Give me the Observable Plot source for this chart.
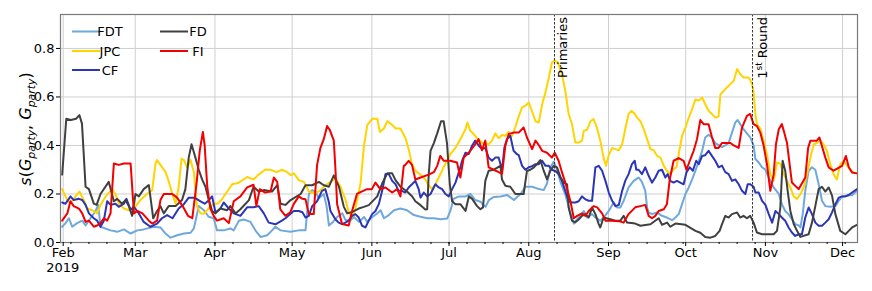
<!DOCTYPE html>
<html><head><meta charset="utf-8">
<script src="https://cdn.jsdelivr.net/npm/d3@7"></script>
<script src="https://cdn.jsdelivr.net/npm/@observablehq/plot@0.6"></script>
<style>
body{margin:0;background:#fff} svg{display:block}
g[aria-label="y-axis tick label"] text, g[aria-label="x-axis tick label"] text {font-size:13px;}
</style>
</head><body><div id="chart"></div>
<script>
// day offsets are counted from 1 Feb 2019
const startDate = Date.UTC(2019, 1, 1);
const seriesNames = ["FDT", "JPC", "CF", "FD", "FI"];
const seriesColors = ["#6fa8dc", "#ffd400", "#2b35b5", "#404040", "#f20000"];

const FDT = [[-0.4,0.065],[0.9,0.08],[2.2,0.1],[3.5,0.065],[5.4,0.08],[7.4,0.09],[8.7,0.07],[10.6,0.1],[12.6,0.13],[13.6,0.155],[14.5,0.065],[18.4,0.05],[21,0.044],[23.6,0.054],[26.2,0.037],[28.8,0.05],[31.3,0.054],[35.2,0.065],[37.8,0.062],[39.8,0.037],[41.7,0.02],[44.3,0.03],[46.9,0.037],[49.5,0.04],[50.8,0.058],[52.7,0.15],[54.7,0.133],[56.6,0.106],[58.5,0.1],[59.8,0.05],[62.4,0.05],[65,0.058],[66.3,0.05],[68.3,0.09],[70.2,0.095],[72.8,0.085],[74.7,0.05],[76.7,0.023],[79.3,0.03],[81.2,0.05],[82.5,0.065],[84.5,0.05],[88.3,0.044],[91.6,0.05],[94.2,0.05],[95.5,0.2],[96.8,0.216],[98,0.21],[99.4,0.182],[101.3,0.2],[102.4,0.15],[103.3,0.07],[104.9,0.085],[106.5,0.105],[108.5,0.12],[109.8,0.092],[111.7,0.092],[113,0.105],[115,0.085],[117,0.105],[118.2,0.085],[120.2,0.105],[122.1,0.12],[123.4,0.133],[124.7,0.1],[126.6,0.113],[128.6,0.133],[131.1,0.14],[133.7,0.133],[136.3,0.113],[138.9,0.106],[141.5,0.1],[144.1,0.1],[146.7,0.096],[149.3,0.099],[150.5,0.13],[151.8,0.18],[153.8,0.19],[156.4,0.19],[158.3,0.2],[160.2,0.175],[162.2,0.168],[164.2,0.147],[165.5,0.175],[167.4,0.188],[170,0.19],[172.6,0.196],[175.2,0.175],[176.5,0.188],[177.8,0.2],[179.7,0.23],[182.3,0.23],[184.2,0.223],[186.8,0.216],[188.1,0.243],[189.4,0.31],[190.7,0.333],[192,0.299],[193.3,0.25],[195.3,0.195],[197.2,0.12],[198.5,0.078],[199.8,0.096],[201.1,0.11],[202.4,0.13],[203.7,0.103],[205.6,0.117],[206.9,0.103],[208.8,0.09],[210.1,0.103],[212.1,0.13],[214,0.165],[215.3,0.144],[216.6,0.144],[217.9,0.172],[219.8,0.227],[221.8,0.254],[223.7,0.268],[225,0.25],[226.3,0.213],[227,0.144],[227.6,0.124],[228.9,0.117],[230.8,0.124],[232.8,0.11],[234.7,0.103],[236.7,0.092],[238,0.103],[239.3,0.117],[240.6,0.158],[241.9,0.2],[243.2,0.227],[244.5,0.26],[245.8,0.296],[247.1,0.337],[248.4,0.378],[249.6,0.433],[250.9,0.444],[252.2,0.433],[253.5,0.41],[256.1,0.393],[257.4,0.4],[258.7,0.41],[260,0.453],[261.3,0.495],[262.2,0.505],[263.2,0.488],[264.5,0.467],[265.8,0.45],[267.1,0.433],[268.4,0.4],[269.1,0.344],[270.4,0.33],[271.7,0.31],[273,0.3],[274.3,0.268],[276.2,0.227],[278.2,0.2],[279.4,0.158],[280.7,0.13],[282,0.117],[283.3,0.096],[284.6,0.076],[286,0.07],[286.6,0.062],[287.5,0.117],[288.5,0.213],[289.8,0.296],[291.1,0.31],[292.4,0.3],[293.7,0.24],[295,0.172],[296.3,0.15],[298.2,0.147],[300.2,0.15],[301.5,0.172],[302.8,0.19],[305.4,0.195],[306.7,0.195],[308.6,0.213]];

const JPC = [[-0.4,0.22],[1.6,0.175],[2.8,0.16],[4.8,0.19],[6.3,0.21],[8,0.175],[9.3,0.14],[11.3,0.133],[13.2,0.12],[14.5,0.155],[16.5,0.19],[19,0.22],[20.3,0.2],[21.6,0.16],[23.6,0.14],[25.5,0.133],[27.5,0.14],[30,0.175],[32.6,0.2],[34.6,0.216],[35.9,0.326],[36.5,0.34],[37.8,0.32],[39.8,0.29],[41.1,0.25],[42.4,0.2],[43.7,0.16],[44.9,0.23],[46,0.346],[46.9,0.34],[48.2,0.31],[49.5,0.34],[50.8,0.29],[52,0.15],[53.4,0.12],[55,0.12],[56.5,0.14],[58.5,0.16],[60,0.16],[61.5,0.175],[63.1,0.2],[65.7,0.24],[68,0.245],[71.5,0.27],[74,0.26],[76,0.28],[78.5,0.3],[80.6,0.3],[83,0.29],[85,0.3],[87.1,0.29],[88.4,0.278],[89.7,0.285],[91.6,0.257],[93.6,0.25],[95.5,0.21],[97.5,0.203],[99.4,0.21],[102,0.236],[103.9,0.25],[105.9,0.264],[107.8,0.23],[109.8,0.175],[111.1,0.12],[112.4,0.106],[113.6,0.14],[115.6,0.243],[116.9,0.395],[118.2,0.484],[120.1,0.51],[122.1,0.51],[123.1,0.456],[124.7,0.47],[126,0.5],[127.9,0.485],[129.2,0.47],[131.1,0.47],[133.1,0.43],[134.3,0.385],[135.6,0.323],[136.9,0.296],[138.9,0.28],[140.8,0.26],[142.1,0.236],[143.4,0.22],[144.7,0.24],[146,0.268],[147.9,0.31],[150.5,0.364],[152.5,0.39],[154.4,0.426],[156.4,0.467],[157.1,0.495],[158.3,0.46],[159.6,0.447],[160.9,0.43],[162.8,0.412],[164.1,0.408],[165.4,0.405],[166.7,0.42],[168,0.45],[169.3,0.43],[170.6,0.443],[171.9,0.44],[173.2,0.456],[173.8,0.433],[174.5,0.44],[175.8,0.477],[177.1,0.52],[178.4,0.557],[179.7,0.564],[181,0.577],[182.3,0.54],[183.6,0.5],[184.9,0.495],[186.2,0.57],[187.5,0.62],[188.8,0.68],[190,0.742],[191.1,0.75],[192.3,0.742],[193.9,0.694],[195.2,0.625],[196.5,0.53],[197.8,0.488],[199.1,0.412],[200.4,0.412],[201.7,0.42],[202.4,0.46],[203.7,0.465],[205,0.5],[206.2,0.509],[207.5,0.474],[208.8,0.42],[210.1,0.35],[211,0.316],[212.1,0.36],[213.4,0.39],[214.7,0.385],[216,0.38],[217.3,0.405],[218.5,0.467],[219.8,0.53],[220.9,0.543],[222.2,0.53],[223.1,0.515],[224.4,0.5],[225.7,0.467],[227,0.426],[228.3,0.385],[229.6,0.38],[230.9,0.357],[232.2,0.35],[233.5,0.316],[234.7,0.296],[236,0.282],[237.1,0.3],[238.4,0.31],[239.3,0.364],[240.6,0.44],[241.9,0.474],[243.2,0.515],[244.5,0.55],[245.8,0.59],[247.1,0.585],[248.4,0.598],[249.6,0.57],[250.9,0.543],[252.2,0.53],[253.5,0.515],[254.8,0.52],[255.5,0.61],[256.8,0.625],[258.1,0.64],[259.4,0.653],[260.7,0.667],[262,0.715],[263.2,0.694],[264.5,0.68],[266.5,0.68],[267.1,0.67],[267.8,0.653],[268.4,0.62],[269.1,0.53],[269.7,0.488],[271,0.47],[272.3,0.42],[273.6,0.364],[274.9,0.282],[276.2,0.254],[277.5,0.33],[278.8,0.325],[280.1,0.282],[281.4,0.254],[282.7,0.227],[284,0.19],[285.3,0.18],[286.6,0.2],[287.9,0.227],[289.2,0.282],[290.5,0.35],[291.8,0.405],[293,0.41],[294.3,0.42],[295.6,0.405],[296.9,0.378],[298.2,0.323],[299.5,0.282],[300.8,0.26],[302.1,0.323],[303.4,0.336],[304.3,0.323],[305.4,0.31],[306.7,0.29],[308.6,0.285]];

const CF = [[-0.4,0.165],[0.9,0.16],[2.2,0.18],[2.8,0.19],[4.1,0.175],[6.1,0.18],[7.4,0.175],[8.7,0.155],[10,0.12],[11.9,0.1],[13.2,0.09],[14.5,0.065],[15.8,0.09],[17.1,0.17],[18.4,0.155],[20.3,0.16],[21.6,0.147],[23.6,0.16],[24.6,0.18],[26.2,0.135],[27.5,0.147],[29.4,0.12],[31.3,0.085],[33.9,0.065],[36.5,0.078],[38.4,0.1],[40.4,0.113],[42.5,0.1],[44.9,0.14],[46.9,0.158],[48.8,0.185],[51,0.185],[53.4,0.17],[55,0.16],[56.2,0.17],[57.9,0.19],[59.2,0.124],[61.1,0.14],[62.4,0.165],[64.4,0.14],[66.3,0.12],[68.9,0.11],[71.5,0.145],[74,0.145],[76,0.15],[78,0.12],[79.9,0.082],[82.5,0.075],[85,0.09],[86.4,0.1],[89.6,0.13],[91.6,0.13],[93,0.125],[94.2,0.103],[95.5,0.11],[96.8,0.15],[98.7,0.17],[100.6,0.213],[101.9,0.22],[103.2,0.17],[103.9,0.13],[105.8,0.096],[107.1,0.082],[108.4,0.076],[109.7,0.082],[111,0.09],[112.3,0.11],[113.6,0.117],[114.9,0.103],[116.2,0.069],[117.5,0.062],[118.8,0.09],[120.1,0.117],[121.4,0.13],[122.7,0.158],[124,0.213],[125.3,0.282],[126.6,0.282],[127.9,0.254],[129.2,0.24],[130.4,0.213],[131.7,0.213],[133,0.206],[134.3,0.227],[135.6,0.24],[136.9,0.254],[138.2,0.22],[138.9,0.185],[140.2,0.206],[141.5,0.19],[142.8,0.2],[144.7,0.24],[146,0.227],[147.3,0.22],[148.6,0.2],[149.9,0.19],[151.2,0.22],[152.5,0.247],[153.8,0.289],[155.1,0.337],[156.4,0.37],[157.7,0.365],[159,0.4],[160.2,0.42],[161.5,0.4],[162.8,0.385],[164.1,0.39],[165.4,0.35],[166.7,0.337],[168,0.35],[169.3,0.35],[170,0.323],[170.6,0.296],[171.5,0.39],[172.5,0.426],[173.8,0.44],[175.1,0.378],[176.4,0.364],[177.1,0.36],[178.4,0.316],[179.7,0.3],[181,0.31],[182.3,0.315],[183.6,0.323],[184.9,0.323],[186.2,0.337],[187.5,0.316],[188.8,0.316],[190,0.3],[191.3,0.295],[192.6,0.282],[193.9,0.254],[195.2,0.213],[196.5,0.17],[197.8,0.165],[199.1,0.165],[200.4,0.17],[201.7,0.19],[203,0.178],[204.3,0.172],[205.6,0.172],[206.9,0.31],[208.2,0.316],[209.5,0.296],[210.8,0.254],[212.1,0.206],[213.4,0.172],[214.7,0.15],[216,0.155],[217.3,0.213],[218.5,0.254],[219.8,0.282],[221.1,0.323],[222.2,0.337],[222.8,0.3],[223.7,0.3],[225,0.282],[226.3,0.31],[227.6,0.275],[228.9,0.247],[230.2,0.268],[231.5,0.296],[232.8,0.3],[234.1,0.268],[235,0.282],[236,0.254],[237.3,0.247],[238.6,0.254],[239.9,0.247],[241.2,0.24],[242.3,0.289],[243.6,0.31],[244.8,0.296],[246.1,0.337],[247.1,0.323],[248.4,0.357],[249.6,0.36],[250.9,0.378],[252.2,0.357],[253.5,0.337],[254.8,0.31],[256.1,0.317],[257.4,0.29],[258.7,0.282],[260,0.254],[261.3,0.26],[262.6,0.24],[263.9,0.213],[265.2,0.2],[266.1,0.24],[267.1,0.24],[268.4,0.23],[269.1,0.206],[270.4,0.206],[271.7,0.172],[273,0.155],[274.3,0.117],[275.6,0.082],[276.9,0.13],[278.2,0.117],[279.4,0.103],[280.7,0.09],[282,0.062],[283.3,0.041],[284.6,0.027],[286,0.034],[287.2,0.034],[288.5,0.103],[289.8,0.144],[291.1,0.117],[292.4,0.082],[293.7,0.069],[295,0.069],[296.3,0.082],[297.6,0.096],[298.9,0.124],[300.2,0.158],[301.5,0.185],[302.8,0.19],[304.1,0.19],[305.4,0.196],[306.7,0.206],[308.6,0.22]];

const FD = [[-0.4,0.28],[1.2,0.51],[3,0.505],[5,0.51],[6.3,0.525],[7.3,0.49],[8.7,0.23],[10,0.22],[11.9,0.16],[13,0.155],[14.5,0.2],[17.7,0.25],[19.7,0.17],[21,0.18],[22.9,0.16],[24.2,0.175],[25.5,0.15],[26.8,0.11],[28.1,0.2],[29.4,0.19],[31.3,0.22],[33.3,0.237],[35,0.1],[36.5,0.13],[37.8,0.15],[39.1,0.12],[41,0.15],[43.7,0.15],[46.2,0.175],[47.5,0.22],[48.8,0.35],[49.9,0.405],[51.4,0.35],[52.7,0.3],[54,0.26],[55.3,0.23],[56.6,0.175],[57.9,0.13],[59.2,0.12],[61.1,0.14],[63.7,0.133],[65,0.15],[67,0.12],[68.9,0.137],[72.2,0.175],[74,0.23],[76,0.21],[78,0.216],[81.2,0.21],[83.2,0.237],[84.5,0.16],[86.4,0.155],[88.4,0.175],[92.3,0.2],[94.2,0.236],[96.8,0.236],[99.4,0.25],[101.3,0.236],[103.3,0.23],[105.2,0.277],[107.2,0.23],[109.1,0.147],[110.4,0.12],[112.4,0.126],[114.9,0.14],[116.9,0.147],[118.8,0.154],[122.1,0.19],[124,0.243],[126,0.285],[127.9,0.285],[129.2,0.257],[131.1,0.23],[133.7,0.21],[135.7,0.19],[136.9,0.17],[138.9,0.154],[140.8,0.136],[141.5,0.137],[142.1,0.28],[142.8,0.378],[144.1,0.41],[145.4,0.45],[146.9,0.5],[147.9,0.5],[149.2,0.41],[150.3,0.24],[151.2,0.17],[152.5,0.158],[154.4,0.158],[156.4,0.13],[157.7,0.19],[159,0.18],[160.9,0.15],[162.2,0.137],[163.2,0.145],[164.1,0.254],[165.4,0.296],[167.4,0.3],[170,0.316],[170.6,0.26],[171.9,0.234],[173.8,0.23],[175.8,0.2],[177.1,0.2],[179,0.2],[180.3,0.295],[181.6,0.3],[183,0.31],[184.2,0.323],[185.5,0.34],[186.8,0.296],[188.1,0.26],[189.4,0.296],[190.7,0.316],[192,0.31],[193.3,0.27],[194.6,0.247],[195.9,0.24],[196.5,0.144],[197.8,0.09],[199.1,0.083],[200.4,0.095],[201.7,0.11],[203,0.117],[204.3,0.103],[205.6,0.144],[206.9,0.117],[208.2,0.076],[208.8,0.062],[210.1,0.103],[212.7,0.096],[214.7,0.09],[216.6,0.09],[217.9,0.11],[219.2,0.082],[222.4,0.078],[224.4,0.069],[228.3,0.075],[231.5,0.1],[232.8,0.073],[234.8,0.082],[236,0.065],[238,0.078],[241.9,0.073],[245.8,0.048],[247.7,0.04],[249.6,0.023],[251.6,0.02],[253.5,0.027],[255.2,0.048],[256.1,0.075],[257.4,0.11],[258.7,0.103],[260,0.117],[262,0.124],[263.2,0.103],[264.5,0.11],[265.8,0.1],[267.1,0.11],[268.4,0.082],[269.7,0.041],[271.7,0.034],[276.2,0.034],[277.5,0.048],[278.8,0.144],[279.7,0.337],[280.7,0.296],[281.8,0.2],[282.7,0.13],[284,0.076],[285.3,0.048],[286.6,0.023],[289.8,0.034],[291.1,0.082],[292.4,0.15],[293.7,0.22],[295,0.23],[296.3,0.21],[297.6,0.227],[298.9,0.193],[300.2,0.117],[302.1,0.048],[304.1,0.034],[305.4,0.048],[306.7,0.062],[308.6,0.073]];

const FI = [[-0.4,0.09],[1.6,0.12],[2.8,0.17],[4.1,0.15],[6.1,0.14],[7.4,0.12],[8.7,0.085],[10,0.09],[11.9,0.065],[13.2,0.07],[14.5,0.08],[15.8,0.1],[17.1,0.09],[18.4,0.12],[19.7,0.326],[21.6,0.32],[23.6,0.326],[26.2,0.326],[27.5,0.12],[28.8,0.13],[30.8,0.12],[33.3,0.09],[34.6,0.078],[36.5,0.09],[37.8,0.175],[39.1,0.2],[42.4,0.2],[44.3,0.185],[46.6,0.147],[48.5,0.11],[50.2,0.1],[51.8,0.24],[53.1,0.38],[54.3,0.456],[55,0.4],[56,0.23],[57.2,0.14],[58.5,0.11],[59.8,0.09],[62.4,0.1],[64.4,0.08],[66.3,0.17],[68.9,0.19],[71.5,0.227],[74,0.238],[75.1,0.15],[76.4,0.22],[78.5,0.206],[80.6,0.21],[81.9,0.268],[83.2,0.25],[84.4,0.137],[86.4,0.11],[88.3,0.125],[89.6,0.158],[91.6,0.19],[93,0.18],[94.2,0.178],[95.5,0.117],[97.4,0.117],[98.7,0.32],[100,0.39],[101.3,0.426],[102.6,0.48],[103.6,0.465],[105.2,0.42],[105.8,0.31],[106.5,0.158],[108.4,0.076],[111,0.07],[112.3,0.13],[114.2,0.2],[116,0.21],[118.1,0.22],[120,0.22],[121.4,0.247],[123.3,0.22],[125.3,0.227],[127.9,0.206],[129.8,0.22],[131.1,0.19],[132.4,0.316],[133,0.32],[134.3,0.337],[135.6,0.32],[136.9,0.26],[139.5,0.27],[142.1,0.28],[144.1,0.29],[145.4,0.316],[146.6,0.357],[147.9,0.337],[150.5,0.337],[153.1,0.33],[154.4,0.268],[155.7,0.35],[157.7,0.37],[160.2,0.405],[161.5,0.426],[162.8,0.38],[164.1,0.42],[165.4,0.31],[167.4,0.3],[169.3,0.29],[170.6,0.283],[171.9,0.4],[173.2,0.447],[175.1,0.453],[177.1,0.453],[179,0.474],[180.3,0.433],[182.3,0.385],[183.6,0.42],[185,0.4],[186.2,0.378],[188.1,0.37],[190,0.35],[191.1,0.37],[192.6,0.337],[193.9,0.29],[195.2,0.247],[197.2,0.17],[198.5,0.1],[199.8,0.11],[201.7,0.12],[203,0.11],[204.3,0.13],[206.2,0.15],[207.6,0.145],[209.5,0.12],[210.8,0.09],[213.4,0.09],[216,0.088],[217.9,0.082],[219.8,0.117],[222.4,0.145],[224.4,0.15],[226.3,0.155],[227.6,0.11],[228.9,0.1],[230.2,0.11],[231.5,0.13],[233.5,0.137],[234.7,0.158],[235.8,0.26],[237.3,0.337],[239.3,0.348],[241.2,0.337],[242.3,0.3],[243.6,0.337],[245.1,0.378],[246.4,0.426],[247.7,0.505],[249,0.488],[250.9,0.488],[252.2,0.435],[253.5,0.39],[254.8,0.39],[256.1,0.41],[259.4,0.41],[260.7,0.4],[262.6,0.39],[263.9,0.474],[265.8,0.522],[267.1,0.53],[268.4,0.488],[269.7,0.48],[271,0.453],[272.3,0.4],[273.6,0.323],[274.9,0.213],[276.2,0.28],[277.1,0.405],[278.2,0.467],[279.4,0.488],[280.4,0.45],[281.4,0.41],[283.3,0.247],[285.9,0.22],[288.5,0.268],[289.6,0.39],[290.5,0.42],[293,0.42],[294,0.433],[296.3,0.35],[297.6,0.31],[299.5,0.296],[302.8,0.316],[304.3,0.357],[305.4,0.31],[306.7,0.289],[308.6,0.285]];

const monthTicks = ["2019-02-01","2019-03-01","2019-04-01","2019-05-01","2019-06-01","2019-07-01","2019-08-01","2019-09-01","2019-10-01","2019-11-01","2019-12-01"];
const monthLabels = ["Feb","Mar","Apr","May","Jun","Jul","Aug","Sep","Oct","Nov","Dec"];
const yearLabel = "2019";
const yTicks = [0, 0.2, 0.4, 0.6, 0.8];
const eventDates = ["2019-08-11", "2019-10-27"];
const eventLabels = ["Primaries", "1st Round"];

const DAY = 864e5;
const toDate = d => new Date(startDate + d * DAY);
const seriesData = [FDT, JPC, CF, FD, FI];
const rows = seriesData.map((pts, i) => pts.map(([d, v]) => ({series: seriesNames[i], date: toDate(d), value: v})));
const months = monthTicks.map(s => new Date(s + "T00:00:00Z"));
const events = eventDates.map(s => new Date(s + "T00:00:00Z"));
const xDomain = [toDate(-1.05), toDate(308.8)];
const mondays = d3.utcMonday.range(xDomain[0], xDomain[1]);
const labelOf = d => { const i = months.findIndex(m => +m === +d); return i >= 0 ? monthLabels[i] : ""; };
const FONT = "'DejaVu Sans', sans-serif";

const chart = Plot.plot({
  width: 872, height: 291,
  marginLeft: 60, marginRight: 15, marginTop: 14, marginBottom: 49,
  style: {fontFamily: FONT, fontSize: "13px", color: "#000", background: "#fff", overflow: "visible"},
  x: {type: "utc", domain: xDomain},
  y: {domain: [0, 0.94]},
  marks: [
    Plot.gridX(months, {stroke: "#cfcfcf", strokeOpacity: 1, strokeWidth: 1}),
    Plot.gridY(yTicks, {stroke: "#cfcfcf", strokeOpacity: 1, strokeWidth: 1}),
    ...rows.map((r, i) => Plot.line(r, {x: "date", y: "value", stroke: seriesColors[i], strokeWidth: 2})),
    Plot.ruleX(events, {stroke: "#333", strokeWidth: 1, strokeDasharray: "2.5,1.5"}),
    Plot.frame({stroke: "#7a7a7a", strokeWidth: 1.2}),
    Plot.axisY(yTicks, {tickSize: 4, tickPadding: 2, tickFormat: d3.format(".1f"), label: null, fontSize: 13}),
    Plot.axisX(mondays, {tickSize: 2, tickFormat: () => "", label: null}),
    Plot.axisX(months, {tickSize: 4, tickPadding: 1.5, tickFormat: labelOf, label: null, fontSize: 13})
  ]
});
document.getElementById("chart").appendChild(chart);

const svg = d3.select(chart);
const xs = chart.scale("x");

// year under first month label
svg.append("text")
  .attr("x", xs.apply(months[0])).attr("y", 272)
  .attr("text-anchor", "middle").attr("font-size", 13).attr("font-family", FONT).attr("fill", "#000")
  .text(yearLabel);

// event labels
events.forEach((d, i) => {
  const x = xs.apply(d) + (i === 0 ? 13.5 : 15);
  const t = svg.append("text")
    .attr("transform", `translate(${x},17) rotate(-90)`)
    .attr("text-anchor", "end")
    .attr("font-size", 13)
    .attr("font-family", FONT)
    .attr("fill", "#000");
  if (eventLabels[i] === "1st Round") {
    t.append("tspan").text("1");
    t.append("tspan").attr("font-size", 9).attr("dy", -5).text("st");
    t.append("tspan").attr("dy", 5).text(" Round");
  } else {
    t.text(eventLabels[i]);
  }
});

// y label: s(G_party, G_party), fitted to the reference length
function buildYLabel(fs) {
  svg.select(".ylab").remove();
  const sub = fs * 0.68, sh = fs * 0.25;
  const yl = svg.append("text").attr("class", "ylab")
    .attr("transform", "translate(31,129) rotate(-90)")
    .attr("text-anchor", "middle")
    .attr("font-family", FONT)
    .attr("fill", "#000");
  yl.append("tspan").attr("font-size", fs).attr("font-style", "italic").text("s");
  yl.append("tspan").attr("font-size", fs).text("(");
  yl.append("tspan").attr("font-size", fs).attr("font-style", "italic").text("G");
  yl.append("tspan").attr("font-size", sub).attr("font-style", "italic").attr("dy", sh).text("party");
  yl.append("tspan").attr("font-size", fs).attr("dy", -sh).text(", ");
  yl.append("tspan").attr("font-size", fs).attr("font-style", "italic").text("G");
  yl.append("tspan").attr("font-size", sub).attr("font-style", "italic").attr("dy", sh).text("party");
  yl.append("tspan").attr("font-size", fs).attr("dy", -sh).text(")");
  return yl.node();
}
let node = buildYLabel(16);
try {
  const len = node.getComputedTextLength();
  if (len > 0 && Math.abs(len - 114) > 3) node = buildYLabel(16 * 114 / len);
} catch (e) {}

// legend
const legendPos = [[72, 31.5], [72, 51], [72, 70], [160, 31.5], [160, 51]];
const lg = svg.append("g").attr("font-family", FONT).attr("font-size", 13);
seriesNames.forEach((name, i) => {
  const [lx, ly] = legendPos[i];
  lg.append("line").attr("x1", lx).attr("x2", lx + 28).attr("y1", ly).attr("y2", ly)
    .attr("stroke", seriesColors[i]).attr("stroke-width", 2);
  lg.append("text").attr("x", lx + 38).attr("y", ly).attr("dy", "0.35em").attr("fill", "#000").text(name);
});
</script>
</body></html>
